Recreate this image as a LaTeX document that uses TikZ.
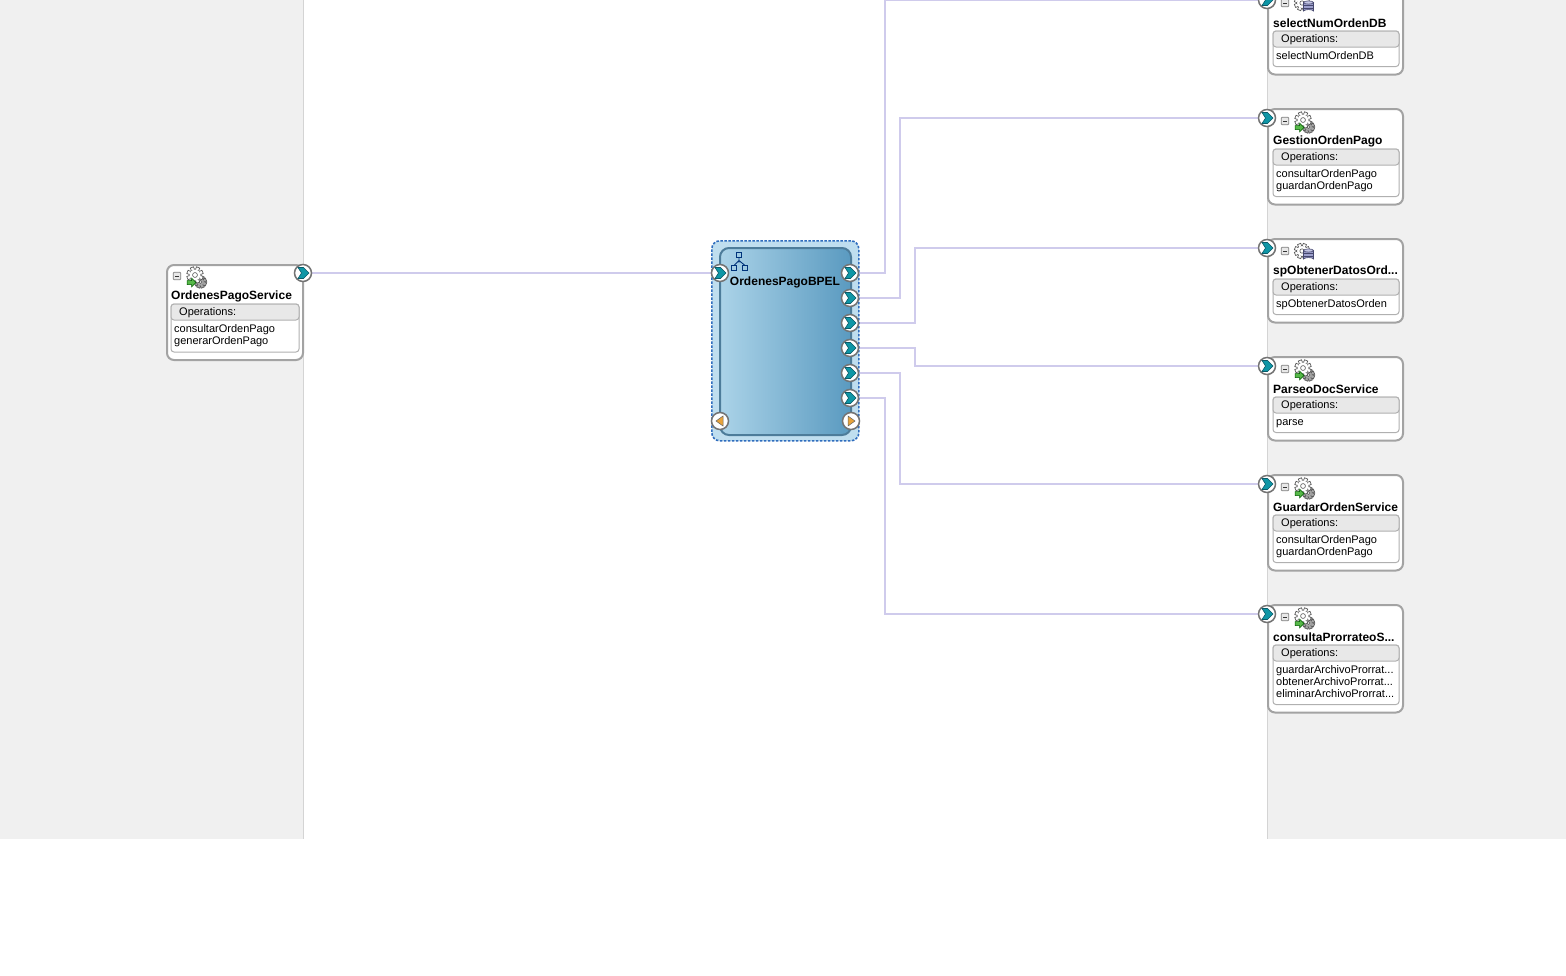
\documentclass[tikz,border=0pt]{standalone}
\usepackage{fontspec}
\setmainfont{Liberation Sans}
\usetikzlibrary{calc}
\pgfdeclarelayer{bgl}\pgfdeclarelayer{wirel}
\pgfsetlayers{bgl,wirel,main}
\definecolor{panel}{HTML}{F0F0F0}
\definecolor{sepc}{HTML}{D4D4D4}
\definecolor{wirec}{HTML}{CFCBEC}
\definecolor{cardc}{HTML}{A3A3A3}
\definecolor{tealc}{HTML}{0E96A6}
\definecolor{tealdk}{HTML}{0B5A68}
\definecolor{hdr}{HTML}{E8E8E8}
\definecolor{boxc}{HTML}{B0B0B0}
\definecolor{bpelouter}{HTML}{BFDEEF}
\definecolor{bpeldash}{HTML}{2F6DBE}
\definecolor{bpelleft}{HTML}{ABD3E8}
\definecolor{bpelright}{HTML}{5A9AC0}
\definecolor{bpelline}{HTML}{4D7C9A}
\definecolor{dbfill}{HTML}{9C9FCC}
\definecolor{dbtop}{HTML}{C4C6E4}
\definecolor{dbline}{HTML}{45476E}
\definecolor{arrowg}{HTML}{56B848}
\definecolor{amber}{HTML}{E8A33A}
\tikzset{
 cardbox/.style={draw=cardc,line width=2pt,fill=white,rounded corners=7pt,anchor=north west,inner sep=0pt},
 opsbox/.style={draw=boxc,line width=1pt,fill=white,rounded corners=3pt},
 opshead/.style={draw=boxc,line width=1pt,fill=hdr,rounded corners=3pt},
 wire/.style={draw=wirec,line width=1.7pt},
 portc/.style={circle,draw=black!55,line width=1.5pt,fill=white,minimum size=17pt,inner sep=0pt},
 titlet/.style={anchor=west,inner sep=0pt,font=\fontsize{12}{12}\selectfont\bfseries},
 smallt/.style={anchor=west,inner sep=0pt,font=\fontsize{11}{11}\selectfont},
 opst/.style={anchor=north west,inner sep=0pt,align=left,font=\fontsize{11}{12}\selectfont},
}
\newcommand{\chev}[1]{%
 \fill[tealc,draw=tealdk,line width=.6pt] ($(#1.center)+(-5,-5.5)$) -- ++(5.5,0) -- ++(5.5,5.5) -- ++(-5.5,5.5) -- ++(-5.5,0) -- ++(3.5,-5.5) -- cycle;}
\newcommand{\gearshape}[4]{% x y r fill
 \draw[black!65,fill=#4,line width=.7pt] (#1,#2) circle (#3);
 \foreach \a in {0,45,...,315}{\fill[#4,draw=black!65,line width=.7pt,shift={(#1,#2)},rotate=\a+22.5] (#3-1,-1.7) rectangle (#3+2.4,1.7);}
 \fill[#4] (#1,#2) circle (#3-.2);
 \draw[black!65,line width=.6pt,fill=white] (#1,#2) circle (#3*.42);}
\newcommand{\svcicon}[2]{% cx cy : gear with green arrow
 \gearshape{#1+5.5}{#2+5}{3.6}{black!35}
 \gearshape{#1}{#2-2}{5.8}{white}
 \fill[arrowg,draw=green!35!black,line width=.5pt] (#1-8,#2+3.5) -- ++(4.5,0) -- ++(0,-2.5) -- ++(4.5,4.5) -- ++(-4.5,4.5) -- ++(0,-2.5) -- ++(-4.5,0) -- cycle;}
\newcommand{\dbicon}[2]{% cx cy : gear with cylinder
 \gearshape{#1-1}{#2-1}{5.2}{white}
 \fill[dbfill,draw=dbline,line width=.6pt] (#1+.5,#2-1.5) -- (#1+.5,#2+7) arc[start angle=180,end angle=360,x radius=5,y radius=1.4] -- (#1+10.5,#2-1.5) -- cycle;
 \draw[dbline,line width=.6pt,fill=dbtop] (#1+5.5,#2-1.5) ellipse (5 and 1.6);
 \draw[dbline,line width=.4pt] (#1+.5,#2+1.5) -- (#1+10.5,#2+1.5) (#1+.5,#2+4.5) -- (#1+10.5,#2+4.5);}
\newcommand{\minusbox}[2]{%
 \draw[black!50,fill=hdr,line width=.8pt,rounded corners=1pt] (#1-3.8,#2-3.8) rectangle (#1+3.8,#2+3.8);
 \draw[black!80,line width=.9pt] (#1-2.2,#2) -- (#1+2.2,#2);}
% id, x, top, width, height, title, icon macro, ops; \ox text offset, \ix icon offset, \dy vertical offset
\def\ox{6}\def\ix{18}\def\dy{0}\def\rx{3}
\newcommand{\card}[8]{%
 \node[cardbox,minimum width=#4 pt,minimum height=#5 pt] (#1) at (#2,#3) {};
 \path[opsbox] (#2+\ox,#3+41+\dy) rectangle (#2+#4-\rx,#3+#5-7);
 \path[opshead] (#2+\ox,#3+41+\dy) rectangle (#2+#4-\rx,#3+57+\dy);
 \minusbox{#2+\ix}{#3+13+\dy}
 #7{#2+\ix+18}{#3+14+\dy}
 \node[titlet] (#1t) at (#2+\ox,#3+33+\dy) {#6};
 \node[smallt] (#1h) at (#2+\ox+8,#3+49.5+\dy) {Operations:};
 \node[opst] (#1o) at (#2+\ox+3,#3+61.5+\dy) {#8};
}
\begin{document}
\begin{tikzpicture}[x=1pt,y=-1pt]
\useasboundingbox (0,0) rectangle (1566,975);
\begin{pgfonlayer}{bgl}
 \fill[white] (0,0) rectangle (1566,975);
 \fill[panel] (0,0) rectangle (303.5,839);
 \fill[panel] (1267.5,0) rectangle (1566,839);
 \draw[sepc,line width=1pt] (303.5,0) -- (303.5,839) (1267.5,0) -- (1267.5,839);
\end{pgfonlayer}
% cards
{\def\ox{5}\def\ix{11}\def\dy{-1}\def\rx{3}
\card{c0}{166}{264}{136}{95}{OrdenesPagoService}{\svcicon}{consultarOrdenPago\\generarOrdenPago}}
\card{s1}{1267}{-10}{135}{83.5}{selectNumOrdenDB}{\dbicon}{selectNumOrdenDB}
\card{s2}{1267}{108}{135}{95.5}{GestionOrdenPago}{\svcicon}{consultarOrdenPago\\guardanOrdenPago}
\card{s3}{1267}{238}{135}{83.5}{spObtenerDatosOrd...}{\dbicon}{spObtenerDatosOrden}
\card{s4}{1267}{356}{135}{83.5}{ParseoDocService}{\svcicon}{\vphantom{Ag}parse}
\card{s5}{1267}{474}{135}{95.5}{GuardarOrdenService}{\svcicon}{consultarOrdenPago\\guardanOrdenPago}
\card{s6}{1267}{604}{135}{107.5}{consultaProrrateoS...}{\svcicon}{guardarArchivoProrrat...\\obtenerArchivoProrrat...\\eliminarArchivoProrrat...}
% BPEL component
\node[draw=bpeldash,dash pattern=on 2.5pt off 1.5pt,line width=1.6pt,fill=bpelouter,rounded corners=8pt,anchor=north west,minimum width=147pt,minimum height=200pt,inner sep=0pt] (bo) at (711,240) {};
\node[draw=bpelline,line width=2pt,left color=bpelleft,right color=bpelright,rounded corners=9pt,anchor=north west,minimum width=131pt,minimum height=187pt,inner sep=0pt] (bi) at (719,247) {};
\node[inner sep=0pt,font=\fontsize{12}{12}\selectfont\bfseries] (bt) at (785,282) {OrdenesPagoBPEL};
\begin{scope}[draw=blue!35!black!80!cyan,line width=.9pt]
 \draw (736.5,252.5) rectangle (741.5,257.5);
 \draw (731.5,265.5) rectangle (736.5,270.5);
 \draw (742.5,265.5) rectangle (747.5,270.5);
 \draw (734,265.5) -- (739,260.5) -- (745,265.5) (739,257.5) -- (739,262.5);
\end{scope}
% ports
\foreach \n/\x/\y in {p0/303/273,bl/720/273,b1/850/273,b2/850/298,b3/850/323,b4/850/348,b5/850/373,b6/850/398,q1/1267/0,q2/1267/118,q3/1267/248,q4/1267/366,q5/1267/484,q6/1267/614}{
 \node[portc] (\n) at (\x,\y) {};
 \chev{\n}
}
\node[portc] (tl) at (720,421) {};
\node[portc] (tr) at (851,421) {};
\fill[amber,draw=black!60,line width=.5pt] (723,416) -- (723,426) -- (716,421) -- cycle;
\fill[amber,draw=black!60,line width=.5pt] (848,416) -- (848,426) -- (855,421) -- cycle;
% connectors
\coordinate (e1) at (885,273);
\coordinate (e2) at (900,298);
\coordinate (e3) at (915,323);
\coordinate (e4) at (915,348);
\coordinate (e5) at (900,373);
\coordinate (e6) at (885,398);
\begin{pgfonlayer}{wirel}
 \draw[wire] (p0) -- (bl);
 \draw[wire] (b1) -- (e1) |- (q1);
 \draw[wire] (b2) -- (e2) |- (q2);
 \draw[wire] (b3) -- (e3) |- (q3);
 \draw[wire] (b4) -- (e4) |- (q4);
 \draw[wire] (b5) -- (e5) |- (q5);
 \draw[wire] (b6) -- (e6) |- (q6);
\end{pgfonlayer}
\end{tikzpicture}
\end{document}
